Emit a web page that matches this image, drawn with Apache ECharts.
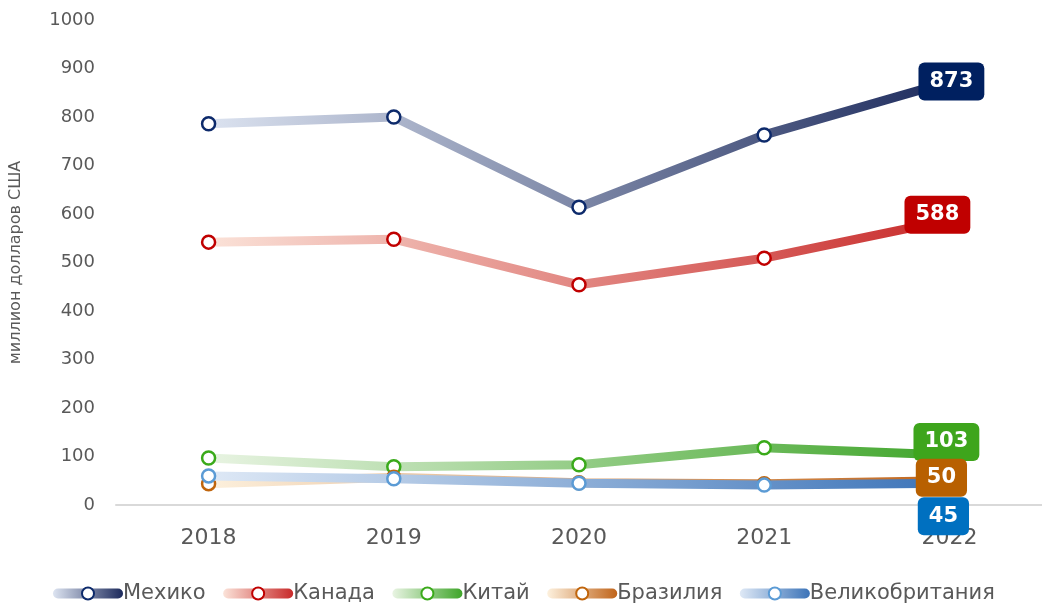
<!DOCTYPE html>
<html>
<head>
<meta charset="utf-8">
<script src="https://cdn.jsdelivr.net/npm/echarts@6/dist/echarts.min.js"></script>
<style>html,body{margin:0;padding:0;background:#fff}#c{width:1042px;height:610px}</style>
</head>
<body>
<div id="c"></div>
<script>
const years = ['2018', '2019', '2020', '2021', '2022'];
const mexico = [786, 800, 614, 763, 873];
const canada = [542, 548, 454, 509, 588];
const china = [97, 79, 83, 118, 103];
const brazil = [44, 57, 46, 44, 50];
const uk = [60, 54, 45, 41, 45];
const seriesNames = ['Мехико', 'Канада', 'Китай', 'Бразилия', 'Великобритания'];
const yTicks = [0, 100, 200, 300, 400, 500, 600, 700, 800, 900, 1000];

const styles = [
  {light: '#dde4f1', dark: '#1c2a5c', marker: '#0d2a6b', label: '#002060', off: [2, 0]},
  {light: '#fbe3d9', dark: '#c82a2a', marker: '#c00000', label: '#c00000', off: [-12, -5]},
  {light: '#e9f4e3', dark: '#3fa52a', marker: '#3aaa1a', label: '#3ea51c', off: [-3, -13]},
  {light: '#fdf1de', dark: '#c0641a', marker: '#c0650c', label: '#b86000', off: [-8, -3]},
  {light: '#dfe9f6', dark: '#3b73b8', marker: '#5b9bd5', label: '#0070c0', off: [-6, 33]}
];
const values = [mexico, canada, china, brazil, uk];
const font = "'DejaVu Sans', sans-serif";
const clear = 'rgba(255,255,255,0)';

const lineSeries = values.map((vals, i) => {
  const s = styles[i];
  return {
    name: seriesNames[i],
    type: 'line',
    data: vals.map((v, j) => j === vals.length - 1 ? {
      value: v,
      itemStyle: {color: clear, borderColor: clear, borderWidth: 0}
    } : v),
    symbol: 'circle',
    symbolSize: 13,
    lineStyle: {
      width: 9,
      color: new echarts.graphic.LinearGradient(0, 0, 1, 0, [
        {offset: 0, color: s.light}, {offset: 1, color: s.dark}
      ])
    },
    itemStyle: {color: '#fff', borderColor: s.marker, borderWidth: 2.5},
    emphasis: {disabled: true},
    z: 2 + i
  };
});

const labelSeries = values.map((vals, i) => {
  const s = styles[i];
  const last = vals.length - 1;
  return {
    name: seriesNames[i] + ' label',
    type: 'scatter',
    data: [[years[last], vals[last]]],
    symbol: 'circle', symbolSize: 2,
    itemStyle: {color: clear, opacity: 1},
    label: {
      show: true, position: 'inside', offset: s.off, opacity: 1,
      formatter: p => String(p.value[1]),
      backgroundColor: s.label, color: '#fff', fontWeight: 'bold',
      fontSize: 21, fontFamily: font,
      padding: [9, 11, 8, 11], borderRadius: 6
    },
    emphasis: {disabled: true},
    silent: true,
    z: 20 + i
  };
});

const chart = echarts.init(document.getElementById('c'), null, {renderer: 'canvas'});
chart.setOption({
  animation: false,
  backgroundColor: '#fff',
  grid: {left: 113, width: 930, top: 20, bottom: 105},
  legend: {
    bottom: 1, left: 48,
    itemWidth: 60, itemHeight: 15, itemGap: 17.5,
    lineStyle: {width: 10, cap: 'round'},
    textStyle: {fontSize: 21, color: '#595959', fontFamily: font},
    data: seriesNames
  },
  xAxis: {
    type: 'category', data: years, boundaryGap: true,
    axisLine: {lineStyle: {color: '#d9d9d9', width: 2}},
    axisTick: {show: false},
    axisLabel: {fontSize: 22, color: '#595959', margin: 22, fontFamily: font}
  },
  yAxis: {
    type: 'value', min: 0, max: 1000, interval: 100,
    name: 'миллион долларов США', nameLocation: 'middle', nameGap: 92,
    nameTextStyle: {fontSize: 16, color: '#595959', fontFamily: font},
    splitLine: {show: false},
    axisLine: {show: false}, axisTick: {show: false},
    axisLabel: {fontSize: 18, color: '#595959', margin: 21, fontFamily: font,
      formatter: v => yTicks.includes(v) ? String(v) : ''}
  },
  series: lineSeries.concat(labelSeries)
});
</script>
</body>
</html>
